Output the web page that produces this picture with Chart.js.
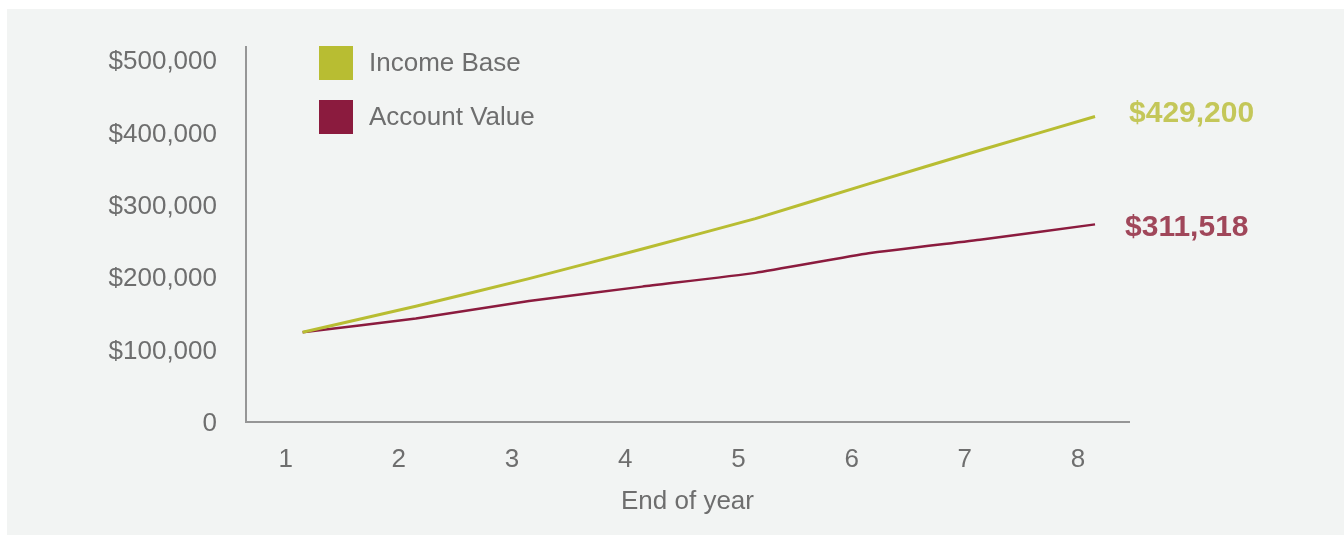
<!DOCTYPE html>
<html>
<head>
<meta charset="utf-8">
<script src="https://cdn.jsdelivr.net/npm/chart.js@4"></script>
<style>
  html, body { margin: 0; padding: 0; background: #ffffff; }
  #panel { position: absolute; left: 7px; top: 9px; right: 0; bottom: 0; background: #f2f4f3; }
  #chart { position: absolute; left: 0; top: 0; }
</style>
</head>
<body>
<div id="panel"></div>
<canvas id="chart" width="1344" height="535"></canvas>
<script>
// Datos del gráfico
const years = [1, 2, 3, 4, 5, 6, 7, 8];
const incomeBase = [124000, 160000, 198000, 239000, 281000, 329000, 376000, 422000];
const accountValue = [124000, 143000, 167000, 187000, 206000, 233000, 252000, 273000];
const yTicks = [0, 100000, 200000, 300000, 400000, 500000];
const endLabels = ["$429,200", "$311,518"];

const COLORS = {
    income: "#b8bd32",
    account: "#8b1b3e",
    incomeText: "#c4c759",
    accountText: "#a0475a",
    text: "#6e6e6e",
    axis: "#969696"
};
const FONT = '"Liberation Sans", Arial, sans-serif';

// Leyenda vertical con cuadros grandes
const boxLegend = {
    id: "boxLegend",
    afterDraw(chart) {
        const ctx = chart.ctx;
        ctx.save();
        chart.data.datasets.forEach((ds, i) => {
            const y = 46 + i * 54;
            ctx.fillStyle = ds.borderColor;
            ctx.fillRect(319, y, 34, 34);
            ctx.fillStyle = COLORS.text;
            ctx.font = "26px " + FONT;
            ctx.textBaseline = "middle";
            ctx.textAlign = "left";
            ctx.fillText(ds.label, 369, y + 18);
        });
        ctx.restore();
    }
};

// Valor final al lado de cada línea
const endValues = {
    id: "endValues",
    afterDatasetsDraw(chart) {
        const ctx = chart.ctx;
        ctx.save();
        ctx.font = "bold 30px " + FONT;
        ctx.textBaseline = "middle";
        ctx.textAlign = "left";
        chart.data.datasets.forEach((ds, i) => {
            const pts = chart.getDatasetMeta(i).data;
            const last = pts[pts.length - 1];
            ctx.fillStyle = ds.endColor;
            ctx.fillText(endLabels[i], last.x + ds.endDx, last.y + ds.endDy);
        });
        ctx.restore();
    }
};

new Chart(document.getElementById("chart").getContext("2d"), {
    type: "line",
    data: {
        datasets: [{
            label: "Income Base",
            data: years.map((yr, i) => ({ x: yr, y: incomeBase[i] })),
            borderColor: COLORS.income,
            endColor: COLORS.incomeText,
            endDx: 34,
            endDy: -3,
            borderWidth: 3,
            pointRadius: 0,
            tension: 0.15,
            xAxisID: "xd"
        }, {
            label: "Account Value",
            data: years.map((yr, i) => ({ x: yr, y: accountValue[i] })),
            borderColor: COLORS.account,
            endColor: COLORS.accountText,
            endDx: 30,
            endDy: 3,
            borderWidth: 2.5,
            pointRadius: 0,
            tension: 0.15,
            xAxisID: "xd"
        }]
    },
    options: {
        responsive: false,
        animation: false,
        devicePixelRatio: 1,
        layout: { padding: { top: 47, right: 215, left: 0, bottom: 0 } },
        plugins: { legend: { display: false }, tooltip: { enabled: false } },
        scales: {
            xd: {
                type: "linear",
                position: "bottom",
                display: false,
                min: 0.5,
                max: 8.3
            },
            x: {
                type: "linear",
                position: "bottom",
                min: 0.65,
                max: 8.45,
                afterBuildTicks: (scale) => { scale.ticks = years.map(v => ({ value: v })); },
                afterFit: (scale) => { scale.height = 113; },
                grid: { display: false, drawTicks: false },
                border: { display: true, color: COLORS.axis, width: 2 },
                ticks: {
                    padding: 22,
                    color: COLORS.text,
                    font: { family: FONT, size: 26 },
                    maxRotation: 0
                },
                title: {
                    display: true,
                    text: "End of year",
                    color: COLORS.text,
                    font: { family: FONT, size: 26 },
                    padding: { top: 0, bottom: 18 }
                }
            },
            y: {
                min: 0,
                max: 518000,
                afterBuildTicks: (scale) => { scale.ticks = yTicks.map(v => ({ value: v })); },
                afterFit: (scale) => { scale.width = 246; },
                grid: { display: false, drawTicks: false },
                border: { display: true, color: COLORS.axis, width: 2 },
                ticks: {
                    padding: 29,
                    labelOffset: 2,
                    color: COLORS.text,
                    font: { family: FONT, size: 26 },
                    callback: (v) => v === 0 ? "0" : "$" + v.toLocaleString("en-US")
                }
            }
        }
    },
    plugins: [boxLegend, endValues]
});
</script>
</body>
</html>
